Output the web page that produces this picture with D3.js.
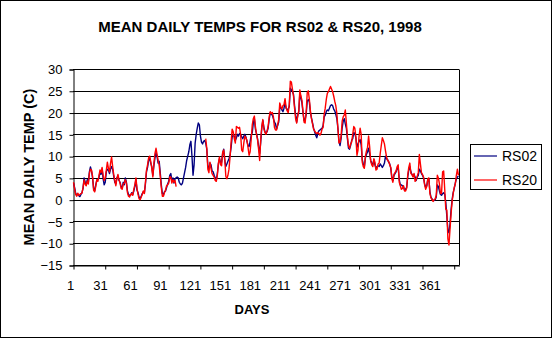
<!DOCTYPE html>
<html><head><meta charset="utf-8">
<script src="https://cdn.jsdelivr.net/npm/d3@7"></script>
<style>
html,body{margin:0;padding:0;background:#fff;}
svg{display:block;}
text{font-family:"Liberation Sans",Arial,sans-serif;fill:#000;}
</style></head>
<body>
<svg id="chart" width="552" height="338"></svg>
<script>
const title = "MEAN DAILY TEMPS FOR RS02 & RS20, 1998";
const xTitle = "DAYS";
const yTitle = "MEAN DAILY TEMP (C)";
const seriesNames = ["RS02", "RS20"];
const seriesColors = ["#000080", "#FF0000"];
const xLabels = [1, 31, 61, 91, 121, 151, 181, 211, 241, 271, 301, 331, 361];
const yTicks = [-15, -10, -5, 0, 5, 10, 15, 20, 25, 30];

const rs02 = [
3.8,2.8,1.5,1.0,1.3,0.9,0.7,1.2,1.6,2.6,
5.0,4.0,3.4,4.6,4.0,6.4,7.5,6.6,5.0,2.6,
2.0,3.4,4.4,4.6,5.0,6.4,5.8,7.0,4.8,3.4,
4.0,6.4,7.0,6.8,6.0,7.0,7.6,7.0,5.4,4.0,
3.6,5.0,5.4,4.4,4.0,3.0,2.6,4.0,3.4,5.0,
4.0,2.0,1.2,1.0,1.0,1.6,1.2,2.0,3.0,4.6,
2.2,1.6,0.6,0.2,0.8,1.4,1.8,1.6,3.6,6.4,
7.4,9.0,9.6,8.4,7.6,5.6,7.8,9.6,10.8,9.8,
8.4,8.8,6.2,3.4,1.4,1.2,1.8,2.0,2.8,3.6,
4.2,5.6,6.0,4.4,5.0,3.8,4.8,5.0,5.2,5.0,
4.0,3.6,3.4,3.8,5.0,6.2,7.4,9.0,10.0,11.0,
12.6,13.4,10.0,5.6,8.0,13.0,15.0,16.4,17.6,17.2,
14.6,13.2,12.8,13.4,13.6,13.0,11.6,7.8,7.0,8.4,
8.0,6.6,6.4,5.6,5.0,4.6,6.0,8.2,9.4,8.6,
8.6,10.6,11.6,9.0,7.6,8.2,8.8,9.4,10.2,12.0,
14.4,14.8,14.6,13.6,14.2,15.0,14.6,15.2,15.0,14.4,
14.0,14.6,15.0,14.4,13.4,12.4,12.2,13.4,14.8,15.4,
17.6,18.6,16.2,15.2,14.0,12.2,10.6,13.2,16.4,18.2,
16.6,15.6,15.2,15.6,16.4,18.4,20.0,19.6,19.4,18.6,
17.8,17.4,16.2,17.0,17.8,21.0,21.2,20.6,20.2,21.0,
22.2,21.0,20.6,20.8,21.4,25.6,25.2,24.8,24.2,21.6,
19.4,17.8,19.4,20.2,24.4,23.4,22.2,20.0,18.2,18.4,
19.6,22.6,23.0,22.4,20.0,18.8,17.6,16.4,15.6,14.8,
14.2,15.2,15.8,16.0,16.2,16.4,17.0,19.0,19.4,20.2,
20.6,20.4,21.0,21.6,21.8,21.6,20.8,20.4,19.6,18.6,
16.4,13.4,12.4,14.0,16.4,18.0,18.6,17.4,16.4,14.0,
11.8,11.6,12.4,13.6,14.0,15.4,15.2,14.2,12.0,12.8,
13.4,13.8,12.6,9.2,8.2,7.6,9.6,10.4,11.0,11.8,
10.6,9.0,8.4,8.0,9.2,8.0,7.2,7.6,7.8,7.6,
8.2,7.8,7.4,7.8,8.4,10.0,9.4,9.2,8.6,8.2,
7.2,5.2,4.4,5.6,6.0,6.4,7.2,7.4,4.6,3.4,
3.4,3.2,3.0,2.2,2.4,2.8,5.2,6.8,7.6,6.4,
5.8,5.4,5.8,5.2,4.4,5.2,5.6,7.0,6.6,6.0,
5.6,5.0,3.6,2.8,3.2,4.6,4.8,1.8,0.6,0.2,
-0.2,-0.2,0.0,0.6,3.4,3.0,2.0,1.2,1.0,1.4,
1.6,1.2,-0.6,-3.8,-7.0,-7.6,-5.6,-2.4,0.0,1.6,
2.6,3.8,4.8,5.2,5.4
];

const rs20 = [
4.0,2.5,1.2,0.8,1.5,1.0,1.2,1.4,1.5,2.8,
4.5,3.5,3.2,4.3,3.6,6.0,7.0,6.8,5.4,2.2,
1.8,3.0,4.6,4.2,5.4,6.8,6.2,7.4,5.6,4.4,
5.0,6.8,8.6,7.2,6.4,8.4,9.8,7.6,5.8,4.4,
3.2,4.8,5.8,4.6,3.8,2.6,2.4,3.6,3.8,4.6,
3.8,1.6,0.8,0.6,1.2,1.4,1.0,2.4,3.4,5.0,
2.6,1.2,0.2,0.0,0.6,1.2,2.0,1.4,4.0,6.8,
8.0,9.6,10.0,8.8,7.2,5.2,8.4,10.6,11.8,10.4,
9.0,8.0,5.4,2.8,0.8,0.8,1.6,2.2,3.2,3.4,
3.8,5.2,5.2,3.8,4.6,4.0,4.4,3.0,null,null,
null,null,null,null,null,null,null,null,null,null,
null,null,null,null,null,null,null,null,null,null,
null,null,null,null,null,14.0,11.8,7.0,6.2,8.6,
7.2,6.0,5.6,5.2,4.4,4.2,5.6,8.4,9.8,8.0,
7.8,10.8,11.4,9.4,5.4,4.8,5.6,7.0,9.8,13.2,
16.2,15.6,14.0,13.0,16.8,16.6,16.4,16.6,15.0,11.4,
11.0,13.0,14.6,14.2,13.6,12.0,10.2,11.0,13.8,17.2,
18.6,19.2,16.8,15.0,13.8,11.6,9.0,13.8,16.8,18.4,
16.2,15.4,15.0,15.8,16.8,19.0,20.2,19.8,20.0,19.0,
16.6,16.0,16.0,17.2,18.4,22.2,21.4,20.8,21.6,21.8,
23.2,21.2,20.4,20.0,21.8,27.2,27.0,25.4,23.8,21.0,
18.6,17.6,19.2,20.4,25.2,23.8,22.8,20.2,17.8,17.6,
20.2,24.6,25.0,23.0,20.4,18.6,17.4,16.2,15.8,15.4,
15.2,15.4,15.2,14.8,15.2,16.2,16.6,19.6,21.0,23.0,
24.4,24.8,25.4,26.0,25.4,24.8,23.8,22.6,21.6,19.8,
16.4,13.0,13.2,14.6,18.0,19.0,19.4,20.6,17.6,14.4,
12.4,11.8,12.8,13.2,15.0,16.8,16.4,14.4,10.2,11.4,
14.6,16.4,15.0,8.6,7.6,7.2,10.0,11.2,12.0,14.6,
12.2,8.8,8.0,7.6,9.4,8.6,6.8,7.0,8.2,8.4,
10.6,12.4,14.2,13.6,12.8,11.2,9.8,9.0,8.8,8.0,
7.4,4.8,4.0,5.8,6.2,6.6,7.6,8.0,4.0,3.2,
2.4,2.6,3.2,2.0,2.0,2.6,5.6,7.4,8.4,6.0,
5.8,5.2,6.0,4.2,4.6,5.4,6.2,10.4,8.2,6.2,
5.8,5.2,3.4,2.4,3.0,4.8,5.0,1.4,0.4,0.0,
-0.4,0.0,0.2,1.0,5.6,5.0,3.6,1.4,1.4,6.4,
6.6,2.4,-2.2,-2.4,-9.0,-10.4,-6.8,-3.2,-0.4,1.4,
2.8,3.6,5.6,7.0,5.6
];

const days = rs02.map((_, i) => i + 1);
const series = [rs02, rs20];

const svg = d3.select("#chart");
const W = 552, H = 338;
const plot = {left: 73, right: 459, top: 69, bottom: 265};

svg.append("rect").attr("x", 0.5).attr("y", 0.5).attr("width", W - 1).attr("height", H - 1)
  .attr("fill", "#fff").attr("stroke", "#000").attr("stroke-width", 1);

const x = d3.scaleLinear().domain([0.5, days.length + 0.5]).range([plot.left, plot.right]);
const y = d3.scaleLinear().domain([-15, 30]).range([plot.bottom, plot.top]);
const xLab = d3.scaleLinear().domain([1, 361]).range([70, 429.5]);

// gridlines
svg.append("g").selectAll("line").data(yTicks).join("line")
  .attr("x1", plot.left).attr("x2", plot.right)
  .attr("y1", d => Math.round(y(d)) + 0.5).attr("y2", d => Math.round(y(d)) + 0.5)
  .attr("stroke", "#000").attr("stroke-width", 1);

// plot border (right)
svg.append("line").attr("x1", plot.right + 0.5).attr("x2", plot.right + 0.5)
  .attr("y1", Math.round(y(30)) + 0.5).attr("y2", Math.round(y(-15)) + 0.5)
  .attr("stroke", "#000");

// y axis
const yAxis = svg.append("g").attr("transform", `translate(${plot.left + 0.5},0.5)`)
  .call(d3.axisLeft(y).tickValues(yTicks).tickSize(4).tickPadding(7).tickFormat(d3.format("d")));
yAxis.select(".domain").attr("stroke", "#000");
yAxis.selectAll(".tick line").attr("stroke", "#000");
yAxis.selectAll("text").style("font-size", "13px").style("font-family", "'Liberation Sans',Arial,sans-serif");

// x axis ticks
const tickPos = d3.range(0, 13).map(k => k * 30 + 0.5);
const xAxis = svg.append("g").attr("transform", `translate(0.5,${Math.round(y(-15)) + 0.5})`)
  .call(d3.axisBottom(x).tickValues(tickPos).tickSize(4).tickSizeOuter(0).tickFormat(""));
xAxis.select(".domain").attr("stroke", "#000");
xAxis.selectAll(".tick line").attr("stroke", "#000");

// x labels
const xLabAxis = svg.append("g").attr("transform", `translate(0,${plot.bottom})`)
  .call(d3.axisBottom(xLab).tickValues(xLabels).tickSize(0).tickPadding(16).tickFormat(d3.format("d")));
xLabAxis.select(".domain").remove();
xLabAxis.selectAll("text").style("font-size", "13px").style("font-family", "'Liberation Sans',Arial,sans-serif");

// lines
const line = d3.line().defined(d => d.v !== null).x(d => x(d.day)).y(d => y(d.v));
series.forEach((s, i) => {
  svg.append("path")
    .datum(s.map((v, j) => ({day: days[j], v})))
    .attr("fill", "none").attr("stroke", seriesColors[i]).attr("stroke-width", 1.4)
    .attr("stroke-linejoin", "round")
    .attr("d", line);
});

// title
svg.append("text").attr("x", 260).attr("y", 32).attr("text-anchor", "middle")
  .style("font-size", "15px").style("font-weight", "bold").text(title);
svg.append("text").attr("x", 252).attr("y", 314).attr("text-anchor", "middle")
  .style("font-size", "13px").style("font-weight", "bold").text(xTitle);
svg.append("text").attr("transform", `translate(34,${(plot.top + plot.bottom) / 2}) rotate(-90)`)
  .attr("text-anchor", "middle").style("font-size", "14.5px").style("font-weight", "bold").text(yTitle);

// legend
const leg = svg.append("g");
leg.append("rect").attr("x", 470.5).attr("y", 144.5).attr("width", 71).attr("height", 45)
  .attr("fill", "#fff").attr("stroke", "#000");
seriesNames.forEach((n, i) => {
  const ly = 156 + i * 24;
  leg.append("line").attr("x1", 474).attr("x2", 497).attr("y1", ly).attr("y2", ly)
    .attr("stroke", seriesColors[i]).attr("stroke-width", 1.2);
  leg.append("text").attr("x", 502).attr("y", ly + 5).style("font-size", "14px").text(n);
});
</script>
</body></html>
